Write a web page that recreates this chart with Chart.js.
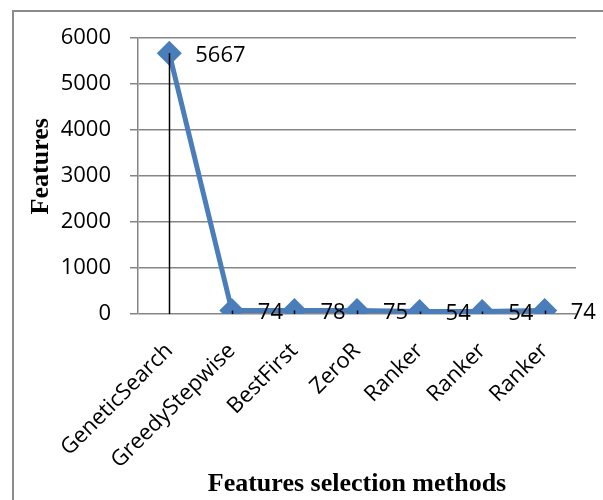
<!DOCTYPE html>
<html>
<head>
<meta charset="utf-8">
<script src="https://cdn.jsdelivr.net/npm/chart.js@4.4.1/dist/chart.umd.min.js"></script>
<style>
  body { margin: 0; background: #fff; }
  .wrap { position: relative; width: 603px; height: 500px; overflow: hidden; }
  .frame {
    position: absolute; left: 12px; top: 10px; width: 700px; height: 600px;
    border-top: 2px solid #8c8c8c; border-left: 2px solid #8c8c8c;
  }
  canvas { position: absolute; left: 0; top: 0; }
</style>
</head>
<body>
<div class="wrap">
  <div class="frame"></div>
  <canvas id="chart" width="603" height="500"></canvas>
</div>
<script>
const methods = ['GeneticSearch', 'GreedyStepwise', 'BestFirst', 'ZeroR', 'Ranker', 'Ranker', 'Ranker'];
const features = [5667, 74, 78, 75, 54, 54, 74];
const yTicks = [0, 1000, 2000, 3000, 4000, 5000, 6000];

const tickFont = { family: 'Open Sans', size: 22 };
const titleFont = { family: 'Liberation Serif', size: 26, weight: 'bold' };

// drop lines from each point down to the axis, then value labels
const extras = {
  id: 'extras',
  afterDatasetsDraw(chart) {
    const ctx = chart.ctx;
    const x = chart.scales.x;
    const y = chart.scales.y;
    const zero = y.getPixelForValue(0);
    ctx.save();
    ctx.strokeStyle = '#000';
    ctx.lineWidth = 1.5;
    features.forEach((v, i) => {
      const px = Math.round(x.getPixelForValue(i)) + 0.5;
      ctx.beginPath();
      ctx.moveTo(px, y.getPixelForValue(v));
      ctx.lineTo(px, zero);
      ctx.stroke();
    });
    ctx.fillStyle = '#000';
    ctx.font = tickFont.size + 'px "' + tickFont.family + '"';
    ctx.textBaseline = 'middle';
    ctx.textAlign = 'left';
    features.forEach((v, i) => {
      ctx.fillText(String(v), x.getPixelForValue(i) + 26, y.getPixelForValue(v) + 2);
    });
    ctx.restore();
  }
};

new Chart(document.getElementById('chart'), {
  type: 'line',
  data: {
    labels: methods,
    datasets: [{
      data: features,
      borderColor: '#4a7ebb',
      backgroundColor: '#4a7ebb',
      borderWidth: 5,
      pointStyle: 'rectRot',
      pointRadius: 9,
      pointHoverRadius: 9,
      tension: 0,
    }],
  },
  options: {
    responsive: false,
    animation: false,
    events: [],
    layout: { padding: { top: 38, right: 27, left: 0, bottom: 0 } },
    plugins: { legend: { display: false }, tooltip: { enabled: false } },
    scales: {
      x: {
        offset: true,
        grid: { display: false, drawTicks: false },
        border: { display: false },
        ticks: {
          color: '#000',
          font: tickFont,
          minRotation: 45,
          maxRotation: 45,
          padding: 24,
        },
        title: {
          display: true,
          text: 'Features selection methods',
          color: '#000',
          font: titleFont,
          padding: { top: 0, bottom: 0 },
        },
        afterFit: (s) => { s.height = 186; },
      },
      y: {
        min: 0,
        max: 6000,
        afterBuildTicks: (s) => { s.ticks = yTicks.map((v) => ({ value: v })); },
        grid: { color: '#868686', lineWidth: 1.5, tickLength: 8 },
        border: { color: '#868686', width: 1.5 },
        ticks: { color: '#000', font: tickFont, padding: 19, callback: (v) => String(v) },
        title: {
          display: true,
          text: '   Features',
          color: '#000',
          font: titleFont,
          padding: { top: 26, bottom: 0 },
        },
        afterFit: (s) => { s.width = 138; },
      },
    },
  },
  plugins: [extras],
});
</script>
</body>
</html>
